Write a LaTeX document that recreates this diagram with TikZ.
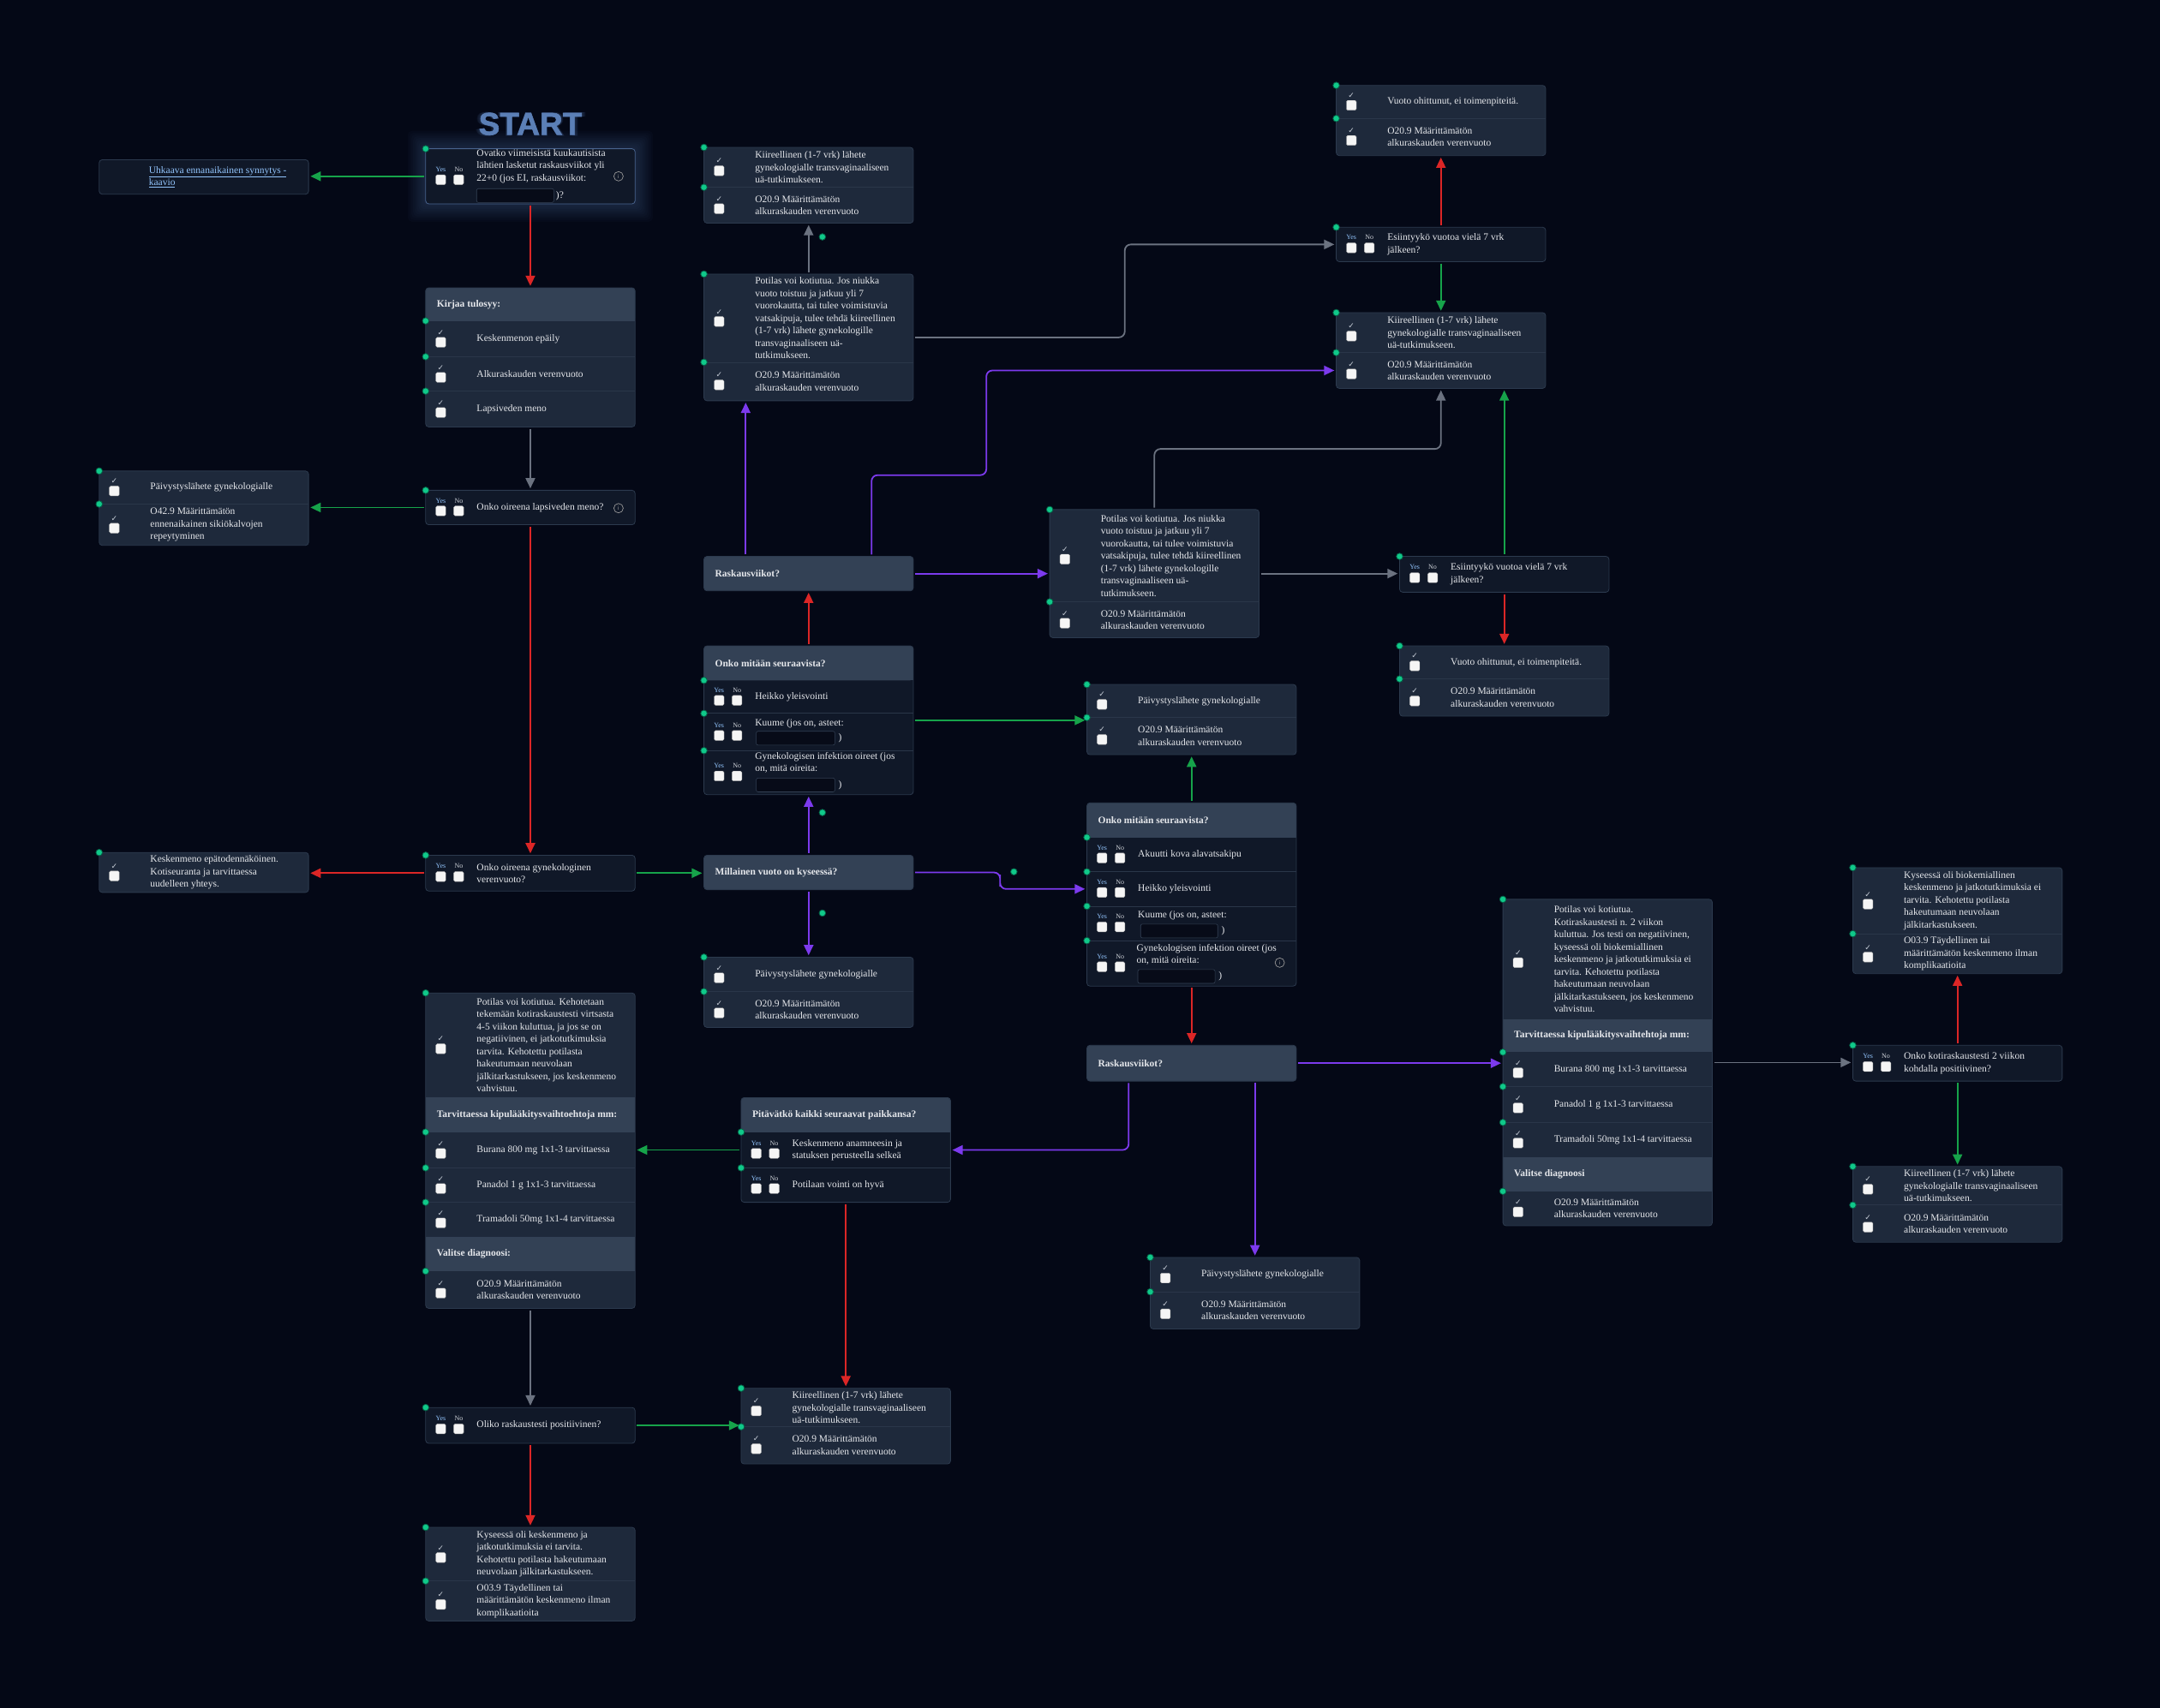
\documentclass[tikz,border=0pt]{standalone}
\usepackage{fontspec}
\setmainfont{Liberation Serif}
\newfontfamily\symf{DejaVu Sans}
\newfontfamily\sansb{Liberation Sans}
\newfontfamily\startf{Liberation Sans}[BoldFeatures={FakeBold=1.6}]
\usetikzlibrary{arrows.meta,calc,fit}

\definecolor{bgc}{HTML}{040816}
\definecolor{rowc}{HTML}{1E293B}
\definecolor{qc}{HTML}{101828}
\definecolor{hdrc}{HTML}{334155}
\definecolor{bordc}{HTML}{2C3A4E}
\definecolor{sepc}{HTML}{2A3649}
\definecolor{txtc}{HTML}{E5E7EB}
\definecolor{yesc}{HTML}{93C5FD}
\definecolor{noc}{HTML}{D1D5DB}
\definecolor{dotc}{HTML}{10C98A}
\definecolor{dotb}{HTML}{065F46}
\definecolor{ag}{HTML}{16A34A}
\definecolor{ar}{HTML}{DC2626}
\definecolor{agr}{HTML}{6B7280}
\definecolor{ap}{HTML}{7C3AED}
\definecolor{startc}{HTML}{5B7FB6}
\definecolor{linkc}{HTML}{93C5FD}
\definecolor{inpc}{HTML}{070B18}
\definecolor{chkc}{HTML}{C4CBD5}

\tikzset{
  txt/.style={font=\fontsize{11.5}{14.5}\selectfont, text=txtc, align=left, inner sep=0pt},
  hdrtxt/.style={font=\fontsize{11.5}{14.5}\selectfont\bfseries, text=txtc, inner sep=0pt},
  cbx/.style={fill=white!96!black, rounded corners=1.5pt, minimum size=11.5pt, inner sep=0pt, draw=gray!60, line width=0.4pt},
  chkmark/.style={font=\symf\fontsize{9}{9}\selectfont, text=chkc, inner sep=0pt},
  yeslbl/.style={font=\fontsize{8}{8}\selectfont, text=yesc, inner sep=0pt},
  nolbl/.style={font=\fontsize{8}{8}\selectfont, text=noc, inner sep=0pt},
  conn/.style={line width=1.8pt, -{Triangle[length=12pt,width=11pt]}, rounded corners=7pt, shorten >=2pt, shorten <=2pt},
}

\newcommand\Bx[6]{%
  \fill[#6, rounded corners=3.5pt] (#2,#3) rectangle (#4,#5);
  \node[fit={(#2,#3)(#4,#5)}, inner sep=0pt] (#1) {};}
\newcommand\Rn[5]{\node[fit={(#2,#3)(#4,#5)}, inner sep=0pt] (#1) {};}
\newcommand\Bd[4]{\draw[bordc, line width=0.8pt, rounded corners=3.5pt] (#1,#2) rectangle (#3,#4);}
\newcommand\Hd[5]{%
  \fill[hdrc, rounded corners=3.5pt] (#1,#2) rectangle (#3,#4);
  \fill[hdrc] (#1,{#4-3}) rectangle (#3,#4);
  \node[hdrtxt, anchor=west] at ({#1+8},{(#2+#4)/2}) {#5};}
\newcommand\HdM[5]{%
  \fill[hdrc] (#1,#2) rectangle (#3,#4);
  \node[hdrtxt, anchor=west] at ({#1+8},{(#2+#4)/2}) {#5};}
\newcommand\Sp[3]{\draw[sepc, line width=0.7pt] (#1,#3) -- (#2,#3);}
\newcommand\Dt[2]{\fill[dotc, draw=dotb, line width=0.8pt] (#1,#2) circle[radius=3.8pt];}
\newcommand\Ck[4]{%
  \node[chkmark] at ({#1+11},{(#2+#3)/2-4.5}) {✓};
  \node[cbx] at ({#1+11},{(#2+#3)/2+2.5}) {};
  \node[txt, anchor=west] at ({#1+37},{(#2+#3)/2}) {#4};
  \Dt{#1}{#2}}
\newcommand\YN[4]{%
  \node[yeslbl] at ({#1+11},{(#2+#3)/2-5}) {Yes};
  \node[nolbl] at ({#1+24},{(#2+#3)/2-5}) {No};
  \node[cbx] at ({#1+11},{(#2+#3)/2+2.5}) {};
  \node[cbx] at ({#1+24},{(#2+#3)/2+2.5}) {};
  \node[txt, anchor=west] at ({#1+37},{(#2+#3)/2}) {#4};
  \Dt{#1}{#2}}
\newcommand\Inp[3]{\draw[fill=inpc, draw=hdrc, line width=0.6pt, rounded corners=2pt] (#1,{#3-5}) rectangle (#2,{#3+5});}
\newcommand\Inf[2]{\draw[gray!80, line width=0.7pt] (#1,#2) circle[radius=5.5pt];
  \node[font=\sansb\fontsize{6.5}{7}\selectfont, text=gray!80, inner sep=0pt] at (#1,#2) {i};}

\begin{document}
\begin{tikzpicture}[x=1.6078pt, y=-1.6078pt]
\useasboundingbox (0,0) rectangle (1568,1240);
\fill[bgc] (0,0) rectangle (1568,1240);

% ---------------- left column ----------------
\Bx{L1}{72}{116}{224}{141}{qc}
\Bd{72}{116}{224}{141}
\node[txt, text=linkc, anchor=west] at (108,128.5) {\underline{Uhkaava ennanaikainen synnytys -}\\\underline{kaavio}};

\Bx{L2}{72}{342}{224}{396}{rowc}
\Bd{72}{342}{224}{396}
\Sp{72}{224}{366}
\Ck{72}{342}{366}{Päivystyslähete gynekologialle}
\Ck{72}{366}{396}{O42.9 Määrittämätön\\ennenaikainen sikiökalvojen\\repeytyminen}

\Bx{L3}{72}{619}{224}{648}{rowc}
\Bd{72}{619}{224}{648}
\Ck{72}{619}{648}{Keskenmeno epätodennäköinen.\\Kotiseuranta ja tarvittaessa\\uudelleen yhteys.}

% ---------------- column 2 ----------------
\foreach \i in {1,...,6} \node[font=\startf\bfseries\fontsize{37}{37}\selectfont, text=startc, opacity=0.05, inner sep=0pt, scale={1+\i*0.012}] at (385,90) {START};
\node[font=\startf\bfseries\fontsize{37}{37}\selectfont, text=startc, inner sep=0pt] (start) at (385,90) {START};
\foreach \i in {1,...,10} \fill[startc, opacity=0.032, rounded corners=5pt] ({309-\i*1.3},{108-\i*1.3}) rectangle ({461+\i*1.3},{148+\i*1.3});
\Bx{q1}{309}{108}{461}{148}{qc}
\draw[startc!60!bordc, line width=0.8pt, rounded corners=3.5pt] (309,108) rectangle (461,148);
\YN{309}{108}{148}{}
\node[txt, anchor=north west] at (346,108.2) {Ovatko viimeisistä kuukautisista\\lähtien lasketut raskausviikot yli\\22+0 (jos EI, raskausviikot:};
\Inp{346}{402}{142}
\node[txt, anchor=west] at (403.5,142) {)?};
\Inf{449}{128}

\Bx{kt}{309}{209}{461}{310}{rowc}
\Hd{309}{209}{461}{233}{Kirjaa tulosyy:}
\Bd{309}{209}{461}{310}
\Sp{309}{461}{259}\Sp{309}{461}{284}
\Ck{309}{233}{259}{Keskenmenon epäily}
\Ck{309}{259}{284}{Alkuraskauden verenvuoto}
\Ck{309}{284}{310}{Lapsiveden meno}

\Bx{q2}{309}{356}{461}{381}{qc}
\Bd{309}{356}{461}{381}
\YN{309}{356}{381}{Onko oireena lapsiveden meno?}
\Inf{449}{369}

\Bx{q3}{309}{621}{461}{647}{qc}
\Bd{309}{621}{461}{647}
\YN{309}{621}{647}{Onko oireena gynekologinen\\verenvuoto?}

\Bx{b1}{309}{721}{461}{950}{rowc}
\HdM{309}{797}{461}{822}{Tarvittaessa kipulääkitysvaihtoehtoja mm:}
\HdM{309}{898}{461}{923}{Valitse diagnoosi:}
\Bd{309}{721}{461}{950}
\Sp{309}{461}{848}\Sp{309}{461}{873}
\Ck{309}{721}{797}{Potilas voi kotiutua. Kehotetaan\\tekemään kotiraskaustesti virtsasta\\4-5 viikon kuluttua, ja jos se on\\negatiivinen, ei jatkotutkimuksia\\tarvita. Kehotettu potilasta\\hakeutumaan neuvolaan\\jälkitarkastukseen, jos keskenmeno\\vahvistuu.}
\Ck{309}{822}{848}{Burana 800 mg 1x1-3 tarvittaessa}
\Ck{309}{848}{873}{Panadol 1 g 1x1-3 tarvittaessa}
\Ck{309}{873}{898}{Tramadoli 50mg 1x1-4 tarvittaessa}
\Ck{309}{923}{950}{O20.9 Määrittämätön\\alkuraskauden verenvuoto}

\Bx{q4}{309}{1022}{461}{1048}{qc}
\Bd{309}{1022}{461}{1048}
\YN{309}{1022}{1048}{Oliko raskaustesti positiivinen?}

\Bx{ky1}{309}{1109}{461}{1177}{rowc}
\Bd{309}{1109}{461}{1177}
\Sp{309}{461}{1148}
\Ck{309}{1109}{1148}{Kyseessä oli keskenmeno ja\\jatkotutkimuksia ei tarvita.\\Kehotettu potilasta hakeutumaan\\neuvolaan jälkitarkastukseen.}
\Ck{309}{1148}{1177}{O03.9 Täydellinen tai\\määrittämätön keskenmeno ilman\\komplikaatioita}

% ---------------- column 3 ----------------
\Bx{k3}{511}{107}{663}{162}{rowc}
\Bd{511}{107}{663}{162}
\Sp{511}{663}{136}
\Ck{511}{107}{136}{Kiireellinen (1-7 vrk) lähete\\gynekologialle transvaginaaliseen\\uä-tutkimukseen.}
\Ck{511}{136}{162}{O20.9 Määrittämätön\\alkuraskauden verenvuoto}

\Bx{pot1}{511}{199}{663}{291}{rowc}
\Bd{511}{199}{663}{291}
\Sp{511}{663}{263}
\Ck{511}{199}{263}{Potilas voi kotiutua. Jos niukka\\vuoto toistuu ja jatkuu yli 7\\vuorokautta, tai tulee voimistuvia\\vatsakipuja, tulee tehdä kiireellinen\\(1-7 vrk) lähete gynekologille\\transvaginaaliseen uä-\\tutkimukseen.}
\Ck{511}{263}{291}{O20.9 Määrittämätön\\alkuraskauden verenvuoto}

\Bx{rw1}{511}{404}{663}{429}{hdrc}
\Bd{511}{404}{663}{429}
\node[hdrtxt, anchor=west] at (519,416.5) {Raskausviikot?};

\Bx{on1}{511}{469}{663}{577}{qc}
\Hd{511}{469}{663}{494}{Onko mitään seuraavista?}
\Bd{511}{469}{663}{577}
\Sp{511}{663}{518}\Sp{511}{663}{545}
\YN{511}{494}{518}{Heikko yleisvointi}
\YN{511}{518}{545}{}
\node[txt, anchor=west] at (548,525.5) {Kuume (jos on, asteet:};
\Inp{549}{606}{536}
\node[txt, anchor=west] at (608.5,536) {)};
\YN{511}{545}{577}{}
\node[txt, anchor=north west] at (548,546) {Gynekologisen infektion oireet (jos\\on, mitä oireita:};
\Inp{549}{606}{570}
\node[txt, anchor=west] at (608.5,570) {)};

\Bx{mil}{511}{621}{663}{646}{hdrc}
\Bd{511}{621}{663}{646}
\node[hdrtxt, anchor=west] at (519,633.5) {Millainen vuoto on kyseessä?};

\Bx{pm}{511}{695}{663}{746}{rowc}
\Bd{511}{695}{663}{746}
\Sp{511}{663}{720}
\Ck{511}{695}{720}{Päivystyslähete gynekologialle}
\Ck{511}{720}{746}{O20.9 Määrittämätön\\alkuraskauden verenvuoto}

\Bx{pit}{538}{797}{690}{873}{qc}
\Hd{538}{797}{690}{822}{Pitävätkö kaikki seuraavat paikkansa?}
\Bd{538}{797}{690}{873}
\Sp{538}{690}{848}
\YN{538}{822}{848}{Keskenmeno anamneesin ja\\statuksen perusteella selkeä}
\YN{538}{848}{873}{Potilaan vointi on hyvä}

\Bx{kb}{538}{1008}{690}{1063}{rowc}
\Bd{538}{1008}{690}{1063}
\Sp{538}{690}{1036}
\Ck{538}{1008}{1036}{Kiireellinen (1-7 vrk) lähete\\gynekologialle transvaginaaliseen\\uä-tutkimukseen.}
\Ck{538}{1036}{1063}{O20.9 Määrittämätön\\alkuraskauden verenvuoto}

% ---------------- column 4/5 ----------------
\Bx{pot2}{762}{370}{914}{463}{rowc}
\Bd{762}{370}{914}{463}
\Sp{762}{914}{437}
\Ck{762}{370}{437}{Potilas voi kotiutua. Jos niukka\\vuoto toistuu ja jatkuu yli 7\\vuorokautta, tai tulee voimistuvia\\vatsakipuja, tulee tehdä kiireellinen\\(1-7 vrk) lähete gynekologille\\transvaginaaliseen uä-\\tutkimukseen.}
\Ck{762}{437}{463}{O20.9 Määrittämätön\\alkuraskauden verenvuoto}

\Bx{pc5}{789}{497}{941}{548}{rowc}
\Bd{789}{497}{941}{548}
\Sp{789}{941}{521}
\Ck{789}{497}{521}{Päivystyslähete gynekologialle}
\Ck{789}{521}{548}{O20.9 Määrittämätön\\alkuraskauden verenvuoto}

\Bx{on2}{789}{583}{941}{716}{qc}
\Hd{789}{583}{941}{608}{Onko mitään seuraavista?}
\Bd{789}{583}{941}{716}
\Sp{789}{941}{633}\Sp{789}{941}{658}\Sp{789}{941}{683}
\Rn{on2h}{789}{633}{941}{658}
\YN{789}{608}{633}{Akuutti kova alavatsakipu}
\YN{789}{633}{658}{Heikko yleisvointi}
\YN{789}{658}{683}{}
\node[txt, anchor=west] at (826,665) {Kuume (jos on, asteet:};
\Inp{828}{884}{676}
\node[txt, anchor=west] at (886.5,676) {)};
\YN{789}{683}{716}{}
\node[txt, anchor=north west] at (825,685.5) {Gynekologisen infektion oireet (jos\\on, mitä oireita:};
\Inp{826}{882}{709}
\node[txt, anchor=west] at (884.5,709) {)};
\Inf{929}{699}

\Bx{rw2}{789}{759}{941}{785}{hdrc}
\Bd{789}{759}{941}{785}
\node[hdrtxt, anchor=west] at (797,772) {Raskausviikot?};

\Bx{pb}{835}{913}{987}{965}{rowc}
\Bd{835}{913}{987}{965}
\Sp{835}{987}{938}
\Ck{835}{913}{938}{Päivystyslähete gynekologialle}
\Ck{835}{938}{965}{O20.9 Määrittämätön\\alkuraskauden verenvuoto}

% ---------------- column 6/7 ----------------
\Bx{vo1}{970}{62}{1122}{113}{rowc}
\Bd{970}{62}{1122}{113}
\Sp{970}{1122}{86}
\Ck{970}{62}{86}{Vuoto ohittunut, ei toimenpiteitä.}
\Ck{970}{86}{113}{O20.9 Määrittämätön\\alkuraskauden verenvuoto}

\Bx{es1}{970}{165}{1122}{190}{qc}
\Bd{970}{165}{1122}{190}
\YN{970}{165}{190}{Esiintyykö vuotoa vielä 7 vrk\\jälkeen?}

\Bx{k6}{970}{227}{1122}{282}{rowc}
\Bd{970}{227}{1122}{282}
\Sp{970}{1122}{256}
\Rn{k6b}{970}{256}{1122}{282}
\Ck{970}{227}{256}{Kiireellinen (1-7 vrk) lähete\\gynekologialle transvaginaaliseen\\uä-tutkimukseen.}
\Ck{970}{256}{282}{O20.9 Määrittämätön\\alkuraskauden verenvuoto}

\Bx{es2}{1016}{404}{1168}{430}{qc}
\Bd{1016}{404}{1168}{430}
\YN{1016}{404}{430}{Esiintyykö vuotoa vielä 7 vrk\\jälkeen?}

\Bx{vo2}{1016}{469}{1168}{520}{rowc}
\Bd{1016}{469}{1168}{520}
\Sp{1016}{1168}{493}
\Ck{1016}{469}{493}{Vuoto ohittunut, ei toimenpiteitä.}
\Ck{1016}{493}{520}{O20.9 Määrittämätön\\alkuraskauden verenvuoto}

% ---------------- column 8 ----------------
\Bx{b2}{1091}{653}{1243}{890}{rowc}
\HdM{1091}{740}{1243}{764}{Tarvittaessa kipulääkitysvaihtehtoja mm:}
\HdM{1091}{840}{1243}{865}{Valitse diagnoosi}
\Bd{1091}{653}{1243}{890}
\Sp{1091}{1243}{789}\Sp{1091}{1243}{815}
\Ck{1091}{653}{740}{Potilas voi kotiutua.\\Kotiraskaustesti n. 2 viikon\\kuluttua. Jos testi on negatiivinen,\\kyseessä oli biokemiallinen\\keskenmeno ja jatkotutkimuksia ei\\tarvita. Kehotettu potilasta\\hakeutumaan neuvolaan\\jälkitarkastukseen, jos keskenmeno\\vahvistuu.}
\Ck{1091}{764}{789}{Burana 800 mg 1x1-3 tarvittaessa}
\Ck{1091}{789}{815}{Panadol 1 g 1x1-3 tarvittaessa}
\Ck{1091}{815}{840}{Tramadoli 50mg 1x1-4 tarvittaessa}
\Ck{1091}{865}{890}{O20.9 Määrittämätön\\alkuraskauden verenvuoto}

% ---------------- column 9 ----------------
\Bx{kyb}{1345}{630}{1497}{707}{rowc}
\Bd{1345}{630}{1497}{707}
\Sp{1345}{1497}{678}
\Ck{1345}{630}{678}{Kyseessä oli biokemiallinen\\keskenmeno ja jatkotutkimuksia ei\\tarvita. Kehotettu potilasta\\hakeutumaan neuvolaan\\jälkitarkastukseen.}
\Ck{1345}{678}{707}{O03.9 Täydellinen tai\\määrittämätön keskenmeno ilman\\komplikaatioita}

\Bx{ok}{1345}{759}{1497}{785}{qc}
\Bd{1345}{759}{1497}{785}
\YN{1345}{759}{785}{Onko kotiraskaustesti 2 viikon\\kohdalla positiivinen?}

\Bx{k9}{1345}{847}{1497}{902}{rowc}
\Bd{1345}{847}{1497}{902}
\Sp{1345}{1497}{875}
\Ck{1345}{847}{875}{Kiireellinen (1-7 vrk) lähete\\gynekologialle transvaginaaliseen\\uä-tutkimukseen.}
\Ck{1345}{875}{902}{O20.9 Määrittämätön\\alkuraskauden verenvuoto}

% ---------------- connectors ----------------
\draw[conn, ag] (q1.west) -- (q1.west -| L1.east);
\draw[conn, ar] (q1.south) -- (kt.north);
\draw[conn, agr] (kt.south) -- (q2.north);
\draw[conn, ag] (q2.west) -- (q2.west -| L2.east);
\draw[conn, ar] (q2.south) -- (q3.north);
\draw[conn, ar] (q3.west) -- (q3.west -| L3.east);
\draw[conn, ag] (q3.east) -- (q3.east -| mil.west);
\draw[conn, ap] (mil.north) -- (on1.south);
\draw[conn, ar] (on1.north) -- (rw1.south);
\draw[conn, ag] (on1.east) -- (on1.east -| pc5.west);
\draw[conn, ap] ($(rw1.north west)!0.2!(rw1.north east)$) -- ($(pot1.south west)!0.2!(pot1.south east)$);
\draw[conn, agr] (pot1.north) -- (k3.south);
\draw[conn, ap] ($(rw1.north west)!0.8!(rw1.north east)$) |- (716,345) |- (k6b.west);
\draw[conn, ap] (rw1.east) -- (rw1.east -| pot2.west);
\draw[conn, agr] (pot1.east) -| ($(pot1.east)!0.5!(es1.west)$) |- (es1.west);
\draw[conn, ar] (es1.north) -- (vo1.south);
\draw[conn, ag] (es1.south) -- (k6.north);
\draw[conn, agr] (pot2.north) |- ($(pot2.north)!0.5!(k6.south)$) -| (k6.south);
\draw[conn, agr] (pot2.east) -- (pot2.east -| es2.west);
\draw[conn, ag] (es2.north) -- (es2.north |- k6.south);
\draw[conn, ar] (es2.south) -- (vo2.north);
\draw[conn, ap] (mil.east) -| ($(mil.east)!0.5!(on2h.west)$) |- (on2h.west);
\draw[conn, ag] (on2.north) -- (pc5.south);
\draw[conn, ar] (on2.south) -- (rw2.north);
\draw[conn, ap] (mil.south) -- (pm.north);
\draw[conn, ap] ($(rw2.south west)!0.2!(rw2.south east)$) |- (pit.east);
\draw[conn, ap] (pb.north |- rw2.south) -- (pb.north);
\draw[conn, ap] (rw2.east) -- (rw2.east -| b2.west);
\draw[conn, agr] (b2.east) -- (b2.east -| ok.west);
\draw[conn, ar] (ok.north) -- (kyb.south);
\draw[conn, ag] (ok.south) -- (k9.north);
\draw[conn, ag] (pit.west) -- (pit.west -| b1.east);
\draw[conn, ar] (pit.south) -- (kb.north);
\draw[conn, agr] (b1.south) -- (q4.north);
\draw[conn, ag] (q4.east) -- (q4.east -| kb.west);
\draw[conn, ar] (q4.south) -- (ky1.north);

% loose handle dots
\Dt{597}{172}
\Dt{597}{590}
\Dt{736}{633}
\Dt{597}{663}
\end{tikzpicture}
\end{document}
